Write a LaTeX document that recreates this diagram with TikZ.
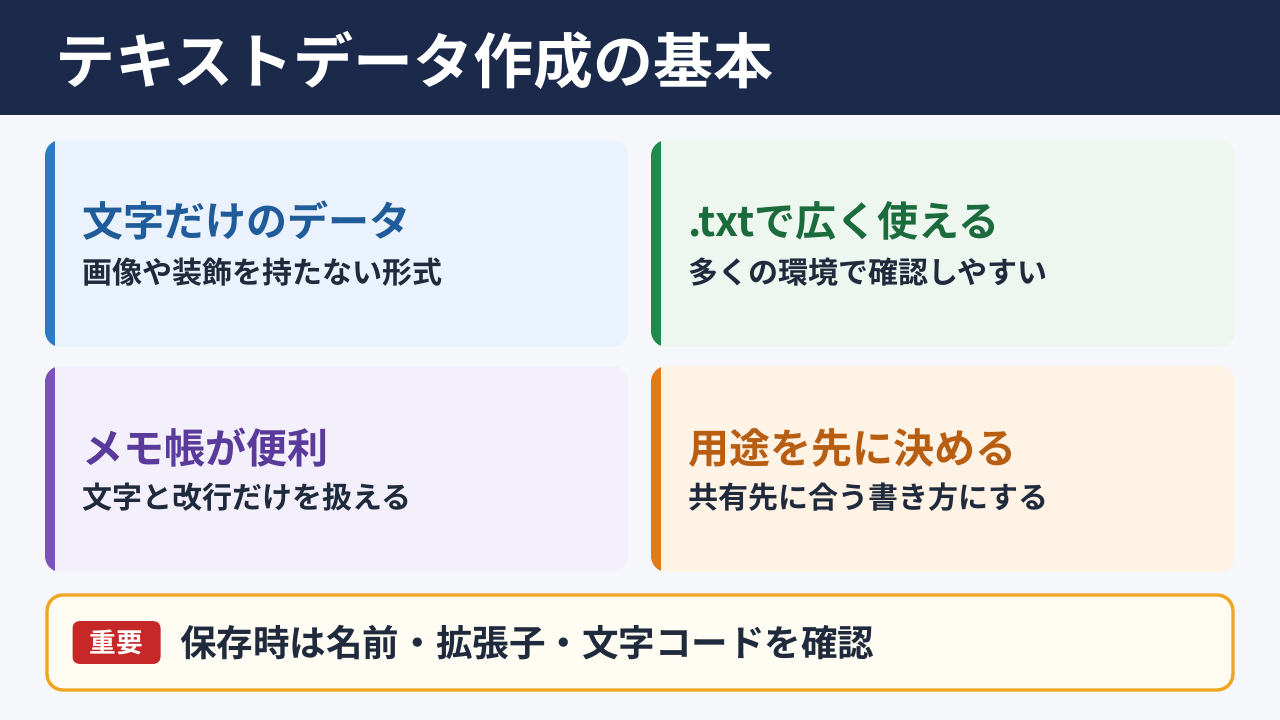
\documentclass[tikz,border=0pt]{standalone}
\usepackage{fontspec}
\setmainfont{Noto Sans CJK JP}[BoldFont={Noto Sans CJK JP Bold}]
\definecolor{navy}{HTML}{1B2A4A}
\definecolor{pagebg}{HTML}{F5F7FB}
\definecolor{txt}{HTML}{1F2A3C}
\definecolor{bbg}{HTML}{EAF2FE}\definecolor{bbar}{HTML}{2B7BC8}\definecolor{bhd}{HTML}{1F5C99}
\definecolor{gbg}{HTML}{EDF7EF}\definecolor{gbar}{HTML}{1E8A4C}\definecolor{ghd}{HTML}{1C6B3D}
\definecolor{pbg}{HTML}{F3EFFB}\definecolor{pbar}{HTML}{7B52C0}\definecolor{phd}{HTML}{5A3A9A}
\definecolor{obg}{HTML}{FFF3E6}\definecolor{obar}{HTML}{E07B1A}\definecolor{ohd}{HTML}{B85E12}
\definecolor{notebg}{HTML}{FFFCF3}\definecolor{noteb}{HTML}{F0A623}\definecolor{badge}{HTML}{C62828}
\tikzset{
 hd/.style={anchor=west,font=\bfseries\fontsize{30.8}{34}\selectfont,inner sep=0},
 sub/.style={anchor=west,font=\bfseries\fontsize{22.5}{26}\selectfont,text=txt,inner sep=0},
}
\newcommand{\mycard}[6]{% x1 y1 x2 y2 bg bar
 \begin{scope}
 \clip[rounded corners=12pt] (#1,#2) rectangle (#3,#4);
 \fill[#5] (#1,#2) rectangle (#3,#4);
 \fill[#6] (#1,#2) rectangle (#1+10,#4);
 \end{scope}
 \fill[#5] (#1+10,#2) rectangle (#1+22,#4);
}
\begin{document}
\begin{tikzpicture}[x=0.75pt,y=-0.75pt]
\useasboundingbox (0,0) rectangle (1280,720);
\fill[pagebg] (0,0) rectangle (1280,720);
\fill[navy] (0,0) rectangle (1280,115);
\node[anchor=west,text=white,font=\bfseries\fontsize{45}{50}\selectfont,inner sep=0] (title) at (55,60) {テキストデータ作成の基本};
\mycard{45}{140}{628}{347}{bbg}{bbar}
\mycard{651}{140}{1235}{347}{gbg}{gbar}
\mycard{45}{366}{628}{572}{pbg}{pbar}
\mycard{651}{366}{1235}{572}{obg}{obar}
\node[hd,text=bhd] (h1) at (82,221) {文字だけのデータ};
\node[sub] (s1) at (82,272) {画像や装飾を持たない形式};
\node[hd,text=ghd] (h2) at (688,221) {.txtで広く使える};
\node[sub] (s2) at (688,272) {多くの環境で確認しやすい};
\node[hd,text=phd] (h3) at (82,448) {メモ帳が便利};
\node[sub] (s3) at (82,497) {文字と改行だけを扱える};
\node[hd,text=ohd] (h4) at (688,448) {用途を先に決める};
\node[sub] (s4) at (688,497) {共有先に合う書き方にする};
\draw[noteb,line width=2.5pt,fill=notebg,rounded corners=12pt] (47,595) rectangle (1233,690);
\node[fill=badge,rounded corners=5pt,text=white,font=\bfseries\fontsize{20}{22}\selectfont,minimum width=66pt,minimum height=32pt,inner sep=0] (badge) at (116.5,642.5) {重要};
\node[anchor=west,text=txt,font=\bfseries\fontsize{27.4}{31}\selectfont,inner sep=0] (note) at (180,643) {保存時は名前・拡張子・文字コードを確認};
\end{tikzpicture}
\end{document}
